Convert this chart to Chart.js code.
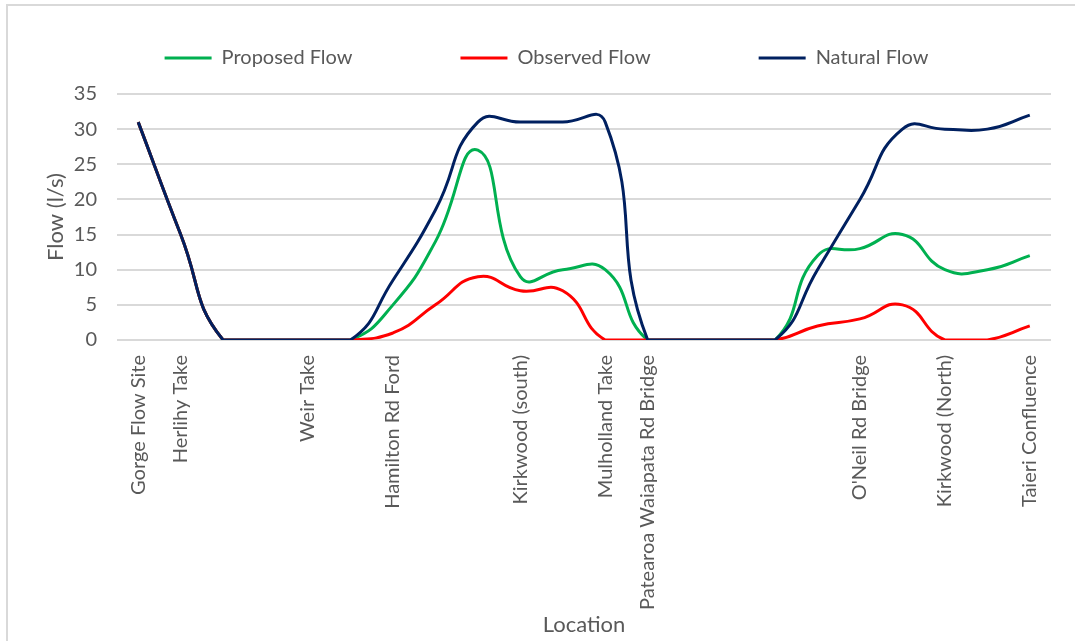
<!DOCTYPE html>
<html>
<head>
<meta charset="utf-8">
<script src="https://cdn.jsdelivr.net/npm/chart.js@4/dist/chart.umd.min.js"></script>
<style>
  html, body { margin: 0; padding: 0; background: #ffffff; }
  #wrap { width: 1075px; height: 641px; position: relative; }
</style>
</head>
<body>
<div id="wrap"><canvas id="c" width="1075" height="641"></canvas></div>
<script>
// ---- data ----
const categories = [
  'Gorge Flow Site', 'Herlihy Take', '', '', 'Weir Take', '', 'Hamilton Rd Ford', '', '',
  'Kirkwood (south)', '', 'Mulholland Take', 'Patearoa Waiapata Rd Bridge', '', '', '', '',
  "O'Neil Rd Bridge", '', 'Kirkwood (North)', '', 'Taieri Confluence'
];
const proposedFlow = [31, 15, 0, 0, 0, 0, 5, 14, 27, 9, 10, 10, 0, 0, 0, 0, 12, 13, 15, 10, 10, 12];
const observedFlow = [31, 15, 0, 0, 0, 0, 1, 5, 9, 7, 7, 0, 0, 0, 0, 0, 2, 3, 5, 0, 0, 2];
const naturalFlow  = [31, 15, 0, 0, 0, 0, 8.5, 18.5, 31, 31, 31, 31, 0, 0, 0, 0, 10, 20, 30, 30, 30, 32];
const seriesNames  = ['Proposed Flow', 'Observed Flow', 'Natural Flow'];
const yTickValues  = [0, 5, 10, 15, 20, 25, 30, 35];

// ---- styling ----
const FONT = 'Lato, "Open Sans", "Liberation Sans", sans-serif';
const TEXT = '#595959';
const GRID = '#d9d9d9';
const LEGEND_PAD = 108;
const LEGEND_FONT = 20;
const LEGEND_Y = 58;
const LEGEND_SHIFT = 21;

const frame = {
  id: 'frame',
  beforeDraw(chart) {
    const ctx = chart.ctx;
    ctx.save();
    ctx.strokeStyle = GRID;
    ctx.lineWidth = 2;
    ctx.beginPath();
    ctx.moveTo(7, 641);
    ctx.lineTo(7, 5);
    ctx.lineTo(1075, 5);
    ctx.stroke();
    ctx.restore();
  }
};

const legendPlace = {
  id: 'legendPlace',
  beforeLayout(chart) {
    const lg = chart.legend;
    if (lg && !lg.__patched) {
      const fit = lg.fit;
      lg.fit = function () { fit.call(this); this.height = 94; };
      lg.__patched = true;
    }
  },
  afterLayout(chart) {
    const lg = chart.legend;
    if (!lg) return;
    lg.top = LEGEND_Y - LEGEND_PAD - LEGEND_FONT / 2;
    lg.left += LEGEND_SHIFT;
    lg.right += LEGEND_SHIFT;
  }
};

const ds = (label, data, color, order) => ({
  label, data,
  borderColor: color,
  backgroundColor: color,
  borderWidth: 3,
  pointRadius: 0,
  pointHoverRadius: 0,
  tension: 0.5,
  fill: false,
  order
});

new Chart(document.getElementById('c'), {
  type: 'line',
  data: {
    labels: categories,
    datasets: [
      ds(seriesNames[0], proposedFlow, '#00b050', 2),
      ds(seriesNames[1], observedFlow, '#ff0000', 1),
      ds(seriesNames[2], naturalFlow, '#002060', 0)
    ]
  },
  options: {
    responsive: false,
    animation: false,
    devicePixelRatio: 1,
    layout: { padding: { top: 0, right: 24, bottom: 0, left: 0 } },
    plugins: {
      tooltip: { enabled: false },
      legend: {
        position: 'top',
        labels: {
          usePointStyle: true,
          pointStyle: 'line',
          pointStyleWidth: 47,
          padding: LEGEND_PAD,
          color: TEXT,
          font: { family: FONT, size: LEGEND_FONT },
          sort: (a, b) => a.datasetIndex - b.datasetIndex
        }
      }
    },
    scales: {
      x: {
        type: 'category',
        offset: true,
        grid: { display: false, drawTicks: false },
        border: { display: false },
        ticks: {
          autoSkip: false,
          minRotation: 90,
          maxRotation: 90,
          padding: 15,
          color: TEXT,
          font: { family: FONT, size: 20 }
        },
        title: {
          display: true,
          text: 'Location',
          color: TEXT,
          font: { family: FONT, size: 22 },
          padding: { top: 0, bottom: 3 }
        },
        afterFit(scale) { scale.height = 301; }
      },
      y: {
        min: 0,
        max: 35,
        grid: { color: GRID, lineWidth: 2, drawTicks: false },
        border: { display: false },
        afterBuildTicks(scale) { scale.ticks = yTickValues.map(v => ({ value: v })); },
        ticks: {
          padding: 20,
          color: TEXT,
          font: { family: FONT, size: 20 }
        },
        title: {
          display: true,
          text: 'Flow (l/s)',
          color: TEXT,
          font: { family: FONT, size: 22 },
          padding: { top: 43, bottom: 0 }
        },
        afterFit(scale) { scale.width = 117; }
      }
    }
  },
  plugins: [frame, legendPlace]
});
</script>
</body>
</html>
